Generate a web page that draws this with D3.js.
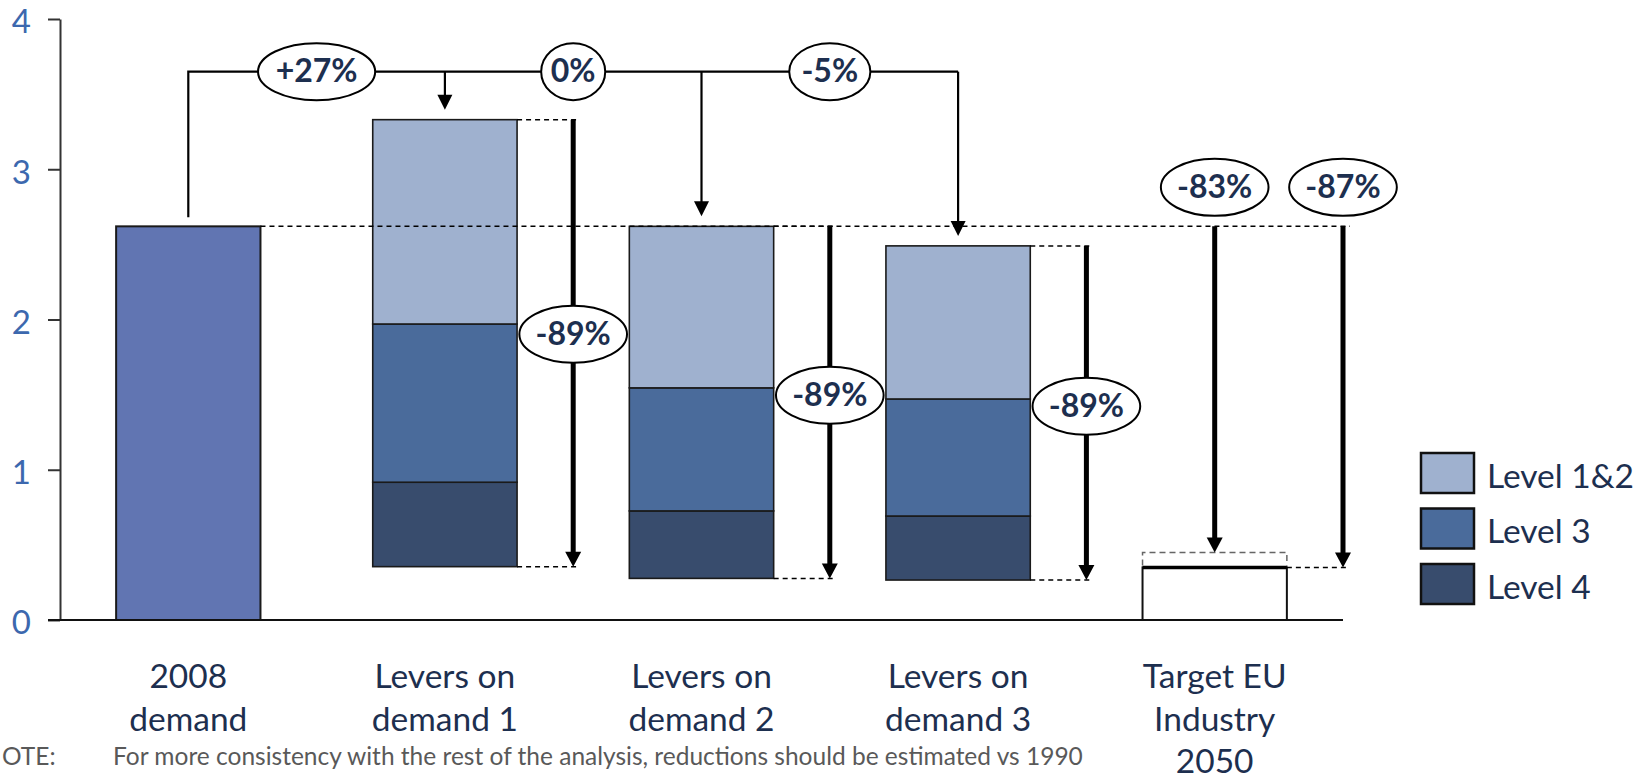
<!DOCTYPE html>
<html><head><meta charset="utf-8">
<script src="https://cdn.jsdelivr.net/npm/d3@7"></script>
<style>
html,body{margin:0;padding:0;background:#fff;overflow:hidden}
svg{display:block}
</style></head><body>
<svg id="chart" width="1647" height="781"></svg>
<script>
// ---------- data ----------
const categories = ["2008 demand","Levers on demand 1","Levers on demand 2","Levers on demand 3","Target EU Industry 2050"];
const categoryLines = [["2008","demand"],["Levers on","demand 1"],["Levers on","demand 2"],["Levers on","demand 3"],["Target EU","Industry","2050"]];
const demand2008 = 2.62;
const leverCategories = ["Levers on demand 1","Levers on demand 2","Levers on demand 3"];
const leverFloor = [0.355, 0.277, 0.266];
const level4 = [0.562, 0.449, 0.426];
const level3 = [1.053, 0.819, 0.779];
const level12 = [1.36, 1.075, 1.019];
const targetLow = 0.35;
const targetHigh = 0.45;
const stepChanges = ["+27%","0%","-5%"];
const leverReductions = ["-89%","-89%","-89%"];
const targetReductions = ["-83%","-87%"];
const seriesNames = ["Level 1&2","Level 3","Level 4"];
const seriesColors = ["#9fb1cf","#4a6b9b","#384c6d"];
const yTicks = [0,1,2,3,4];
const noteLabel = "OTE:";
const noteText = "For more consistency with the rest of the analysis, reductions should be estimated vs 1990";

// ---------- setup ----------
const FONT = "Lato, 'Open Sans', sans-serif";
const NAVY = "#1d2f4f";
const svg = d3.select("#chart");
const x = d3.scaleBand().domain(categories).range([60, 1343]).paddingInner(0.4375).paddingOuter(0.21875);
const y = d3.scaleLinear().domain([0, 4]).range([620, 19]);
const bw = x.bandwidth(), step = x.step();
const cx = c => x(c) + bw / 2;
const colorOf = d3.scaleOrdinal().domain(seriesNames).range(seriesColors);

// ---------- axes ----------
const yAxis = svg.append("g").attr("transform", "translate(60,0)")
  .call(d3.axisLeft(y).tickValues(yTicks).tickSize(12).tickSizeOuter(0).tickPadding(17).tickFormat(d3.format("d")))
  .attr("font-family", FONT).attr("font-size", 33);
yAxis.select(".domain").attr("stroke", "#333").attr("stroke-width", 2);
yAxis.selectAll(".tick line").attr("stroke", "#333").attr("stroke-width", 2);
yAxis.selectAll(".tick text").attr("fill", "#3c68ae").attr("dy", "0.42em");

const gBars = svg.append("g");
const gLines = svg.append("g");
const gLabels = svg.append("g");

// ---------- bars ----------
gBars.append("rect")
  .attr("x", x(categories[0])).attr("y", y(demand2008))
  .attr("width", bw).attr("height", y(0) - y(demand2008))
  .attr("fill", "#6175b2").attr("stroke", "#1a1a1a").attr("stroke-width", 2);

const leverRows = leverCategories.map((c, i) => ({cat: c, floor: leverFloor[i], "Level 4": level4[i], "Level 3": level3[i], "Level 1&2": level12[i]}));
const stacked = d3.stack().keys(["floor", "Level 4", "Level 3", "Level 1&2"])(leverRows);
stacked.slice(1).forEach(layer => {
  gBars.selectAll(null).data(layer).join("rect")
    .attr("x", d => x(d.data.cat)).attr("y", d => y(d[1]))
    .attr("width", bw).attr("height", d => y(d[0]) - y(d[1]))
    .attr("fill", colorOf(layer.key)).attr("stroke", "#1a1a1a").attr("stroke-width", 1.6);
});
const leverTop = leverRows.map((r, i) => stacked[3][i][1]);

// target bar
const tc = categories[4];
gBars.append("rect").attr("x", x(tc)).attr("y", y(targetLow)).attr("width", bw).attr("height", y(0) - y(targetLow))
  .attr("fill", "#fff").attr("stroke", "#111").attr("stroke-width", 2);
gBars.append("line").attr("x1", x(tc)).attr("x2", x(tc) + bw).attr("y1", y(targetLow)).attr("y2", y(targetLow))
  .attr("stroke", "#000").attr("stroke-width", 3.5);
gBars.append("path")
  .attr("d", `M${x(tc)},${y(targetLow) - 2}V${y(targetHigh)}H${x(tc) + bw}V${y(targetLow) - 2}`)
  .attr("fill", "none").attr("stroke", "#666").attr("stroke-width", 1.5).attr("stroke-dasharray", "6,4");

// x baseline
svg.append("line").attr("x1", 48).attr("x2", x.range()[1]).attr("y1", y(0)).attr("y2", y(0))
  .attr("stroke", "#111").attr("stroke-width", 2);

// ---------- helpers ----------
function dashed(x1, x2, yy) {
  gLines.append("line").attr("x1", x1).attr("x2", x2).attr("y1", yy).attr("y2", yy)
    .attr("stroke", "#000").attr("stroke-width", 1.5).attr("stroke-dasharray", "5,4");
}
function arrow(xp, y1, yTip, w, hw, hh) {
  gLines.append("line").attr("x1", xp).attr("x2", xp).attr("y1", y1).attr("y2", yTip - hh + 1)
    .attr("stroke", "#000").attr("stroke-width", w);
  gLines.append("path").attr("d", `M${xp - hw / 2},${yTip - hh}L${xp + hw / 2},${yTip - hh}L${xp},${yTip}Z`).attr("fill", "#000");
}
function bubble(xp, yp, label) {
  const g = gLabels.append("g");
  const el = g.append("ellipse").attr("cx", xp).attr("cy", yp).attr("ry", 28.5)
    .attr("fill", "#fff").attr("stroke", "#000").attr("stroke-width", 2);
  const t = g.append("text").attr("x", xp).attr("y", yp).attr("dy", "0.33em").attr("text-anchor", "middle")
    .attr("font-family", FONT).attr("font-weight", 700).attr("font-size", 32).attr("fill", NAVY).text(label);
  const w = t.node().getComputedTextLength();
  el.attr("rx", Math.max(w / 2 * 1.43, 32));
}

// ---------- annotations ----------
const yBase = y(demand2008);
dashed(x(categories[0]) + bw, cx(tc) + step / 2 + 7, yBase);

const yBracket = y(leverTop[0]) - 48;
const c0 = cx(categories[0]);
const leverCx = leverCategories.map(cx);
gLines.append("path")
  .attr("d", `M${c0},${yBase - 9}V${yBracket}H${leverCx[2]}`)
  .attr("fill", "none").attr("stroke", "#000").attr("stroke-width", 2.2);
leverCategories.forEach((c, i) => arrow(leverCx[i], yBracket, y(leverTop[i]) - 10, 2.2, 15, 15));
const bracketX = [c0, ...leverCx];
stepChanges.forEach((lab, i) => bubble((bracketX[i] + bracketX[i + 1]) / 2, yBracket, lab));

leverCategories.forEach((c, i) => {
  const ax = cx(c) + step / 2;
  const yTop = y(leverTop[i]), yBot = y(leverFloor[i]);
  dashed(x(c) + bw, ax + 5, yTop);
  dashed(x(c) + bw, ax + 5, yBot);
  arrow(ax, yTop, yBot, 5, 16, 15);
  bubble(ax, yTop + (yBot - yTop) * 0.48, leverReductions[i]);
});

const tx = [cx(tc), cx(tc) + step / 2];
const tVals = [targetHigh, targetLow];
dashed(x(tc) + bw, tx[1] + 4, y(targetLow));
tx.forEach((xp, i) => {
  arrow(xp, yBase, y(tVals[i]), 5, 16, 15);
  bubble(xp, yBase - 39, targetReductions[i]);
});

// ---------- category labels ----------
const catText = svg.append("g").selectAll("text").data(categories).join("text")
  .attr("x", d => cx(d)).attr("y", y(0) + 68).attr("text-anchor", "middle")
  .attr("font-family", FONT).attr("font-size", 33.5).attr("fill", NAVY);
catText.each(function (d, i) {
  d3.select(this).selectAll("tspan").data(categoryLines[i]).join("tspan")
    .attr("x", cx(d)).attr("dy", (l, j) => j === 0 ? 0 : 42.5).text(l => l);
});

// ---------- legend ----------
const leg = svg.append("g").attr("transform", "translate(1421,453)");
const li = leg.selectAll("g").data(seriesNames).join("g").attr("transform", (d, i) => `translate(0,${i * 55.5})`);
li.append("rect").attr("width", 53).attr("height", 40).attr("fill", d => colorOf(d)).attr("stroke", "#111").attr("stroke-width", 2.5);
li.append("text").attr("x", 66).attr("y", 34.5).attr("font-family", FONT).attr("font-size", 33.5).attr("fill", NAVY).text(d => d);

// ---------- note ----------
svg.append("text").attr("x", 2).attr("y", 765)
  .attr("font-family", FONT).attr("font-size", 24.5).attr("fill", "#595959").text(noteLabel);
svg.append("text").attr("x", 113).attr("y", 765)
  .attr("font-family", FONT).attr("font-size", 24.5).attr("fill", "#595959").text(noteText);
</script>
</body></html>
